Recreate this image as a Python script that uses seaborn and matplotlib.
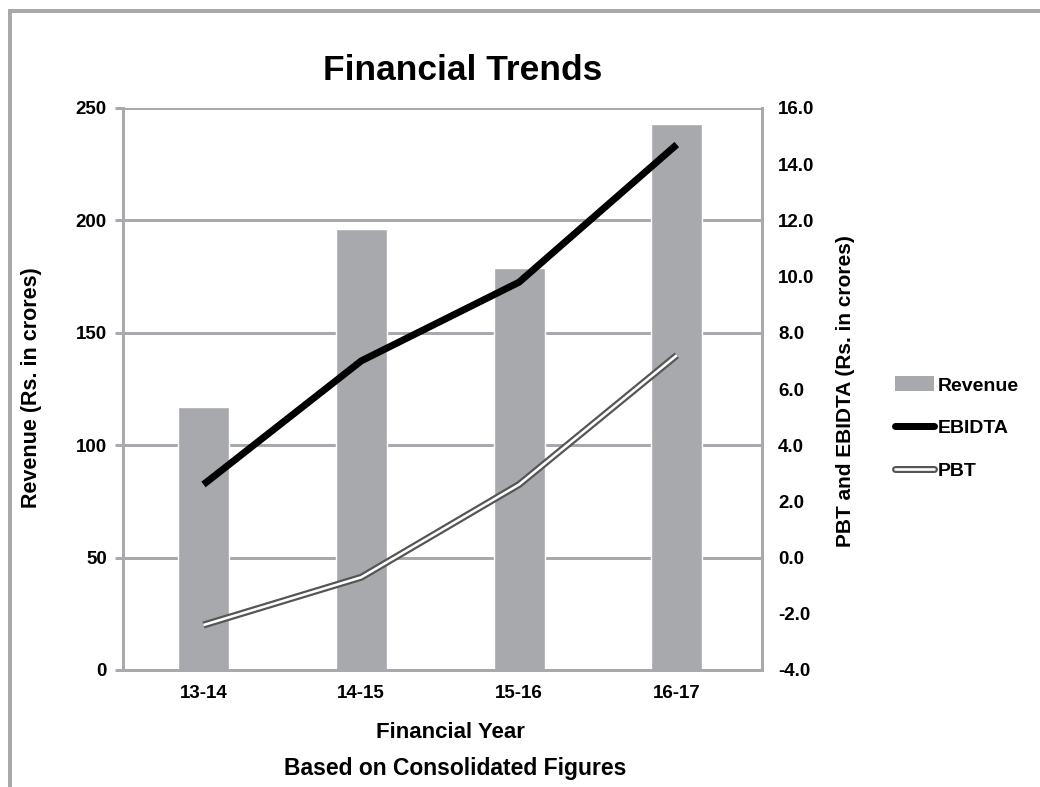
import numpy as np
import pandas as pd
import seaborn as sns
import matplotlib
matplotlib.use("Agg")
import matplotlib.pyplot as plt
from matplotlib.patches import Patch
from matplotlib.lines import Line2D
from matplotlib.ticker import FormatStrFormatter

# ---- data ----
years = ["13-14", "14-15", "15-16", "16-17"]
revenue = [117, 196, 179, 243]
ebidta = [2.6, 7.0, 9.8, 14.7]
pbt = [-2.4, -0.7, 2.6, 7.2]
left_ticks = [0, 50, 100, 150, 200, 250]
right_ticks = [-4, -2, 0, 2, 4, 6, 8, 10, 12, 14, 16]

GRAY = "#a7a9ac"
PBT_GRAY = "#555555"
PX = 72 / 100  # points per pixel at dpi 100

sns.set_theme(style="white")
plt.rcParams["font.family"] = ["Liberation Sans", "DejaVu Sans"]
plt.rcParams["font.weight"] = "bold"
plt.rcParams["text.color"] = "black"
plt.rcParams["axes.labelcolor"] = "black"
plt.rcParams["xtick.color"] = "black"
plt.rcParams["ytick.color"] = "black"

fig = plt.figure(figsize=(10.4, 7.87), dpi=100)
W, H = 1040, 787
ax = fig.add_axes([123 / W, 1 - 670 / H, (762 - 123) / W, (670 - 108) / H])

df = pd.DataFrame({"year": years, "revenue": revenue})
sns.barplot(data=df, x="year", y="revenue", ax=ax, color=GRAY, saturation=1,
            width=0.323, zorder=2)
ax.set_xlim(-0.51, 3.54)
ax.set_ylim(0, 250)
ax.set_yticks(left_ticks)
ax.grid(axis="y", color=GRAY, lw=3 * PX, zorder=0)
ax.set_axisbelow(True)
for side in ["top", "right"]:
    ax.spines[side].set_visible(False)
for side in ["left", "bottom"]:
    ax.spines[side].set_color(GRAY)
    ax.spines[side].set_linewidth(3 * PX)
ax.tick_params(axis="y", left=True, length=8 * PX, width=3 * PX, color=GRAY,
               pad=8 * PX, labelsize=13.5, labelcolor="black")
ax.tick_params(axis="x", bottom=False, length=0, pad=15 * PX, labelsize=13.5,
               labelcolor="black")
for lab in ax.get_xticklabels() + ax.get_yticklabels():
    lab.set_fontweight("bold")

ax.set_xlabel("Financial Year", fontsize=16, fontweight="bold", color="black")
ax.xaxis.label.set_va("center")
ax.xaxis.set_label_coords((450 - 123) / 639, (670 - 733) / 562)
ax.set_ylabel("Revenue (Rs. in crores)", fontsize=15.5, fontweight="bold",
              color="black")
ax.yaxis.label.set_va("center")
ax.yaxis.set_label_coords((32 - 123) / 639, 0.502)

# ---- secondary axis ----
ax2 = ax.twinx()
pos = np.arange(len(years))
sns.lineplot(x=pos, y=ebidta, ax=ax2, color="black", lw=7 * PX, legend=False,
             solid_capstyle="butt", solid_joinstyle="miter")
sns.lineplot(x=pos, y=pbt, ax=ax2, color=PBT_GRAY, lw=7 * PX, legend=False,
             solid_capstyle="butt")
sns.lineplot(x=pos, y=pbt, ax=ax2, color="white", lw=2.6 * PX, legend=False,
             solid_capstyle="butt")
ax2.set_ylim(-4, 16)
ax2.set_yticks(right_ticks)
ax2.yaxis.set_major_formatter(FormatStrFormatter("%.1f"))
ax2.set_yticks([-4, 16], minor=True)
ax2.tick_params(axis="y", which="major", right=True, length=0, pad=16 * PX,
                labelsize=13.5, labelcolor="black")
ax2.tick_params(axis="y", which="minor", right=True, length=8 * PX,
                width=3 * PX, color=GRAY)
for lab in ax2.get_yticklabels():
    lab.set_fontweight("bold")
for side in ["top", "left", "bottom"]:
    ax2.spines[side].set_visible(False)
ax2.spines["right"].set_color(GRAY)
ax2.spines["right"].set_linewidth(3 * PX)
ax2.set_ylabel("PBT and EBIDTA (Rs. in crores)", fontsize=15,
               fontweight="bold", color="black")
ax2.yaxis.label.set_va("center")
ax2.yaxis.set_label_coords((845 - 123) / 639, 0.496)

# ---- title and subtitle ----
fig.text(463 / W, 1 - 80 / H, "Financial Trends", ha="center", va="baseline",
         fontsize=25.5, fontweight="bold", color="black")
fig.text(455 / W, 1 - 775 / H, "Based on Consolidated Figures", ha="center",
         va="baseline", fontsize=16.5, fontweight="bold", color="black")

# ---- legend ----
handles = [
    Patch(facecolor=GRAY, edgecolor="none"),
    Line2D([], [], color="black", lw=7 * PX, solid_capstyle="round"),
    (Line2D([], [], color=PBT_GRAY, lw=7 * PX),
     Line2D([], [], color="white", lw=2.6 * PX)),
]
fig.legend(handles, ["Revenue", "EBIDTA", "PBT"], loc="center left",
           bbox_to_anchor=(885 / W, 1 - 428 / H), frameon=False,
           handlelength=2.0, handleheight=0.8,
           handletextpad=0.2, labelspacing=1.25, borderpad=0,
           prop={"weight": "bold", "size": 14})

# ---- outer frame (left and top edges) ----
fig.add_artist(Line2D([10 / W, 10 / W], [0, 1 - 11 / H], color=GRAY,
                      lw=4 * PX, transform=fig.transFigure,
                      solid_capstyle="projecting"))
fig.add_artist(Line2D([10 / W, 1], [1 - 11 / H, 1 - 11 / H], color=GRAY,
                      lw=4 * PX, transform=fig.transFigure,
                      solid_capstyle="projecting"))

fig.savefig("out.png", dpi=100)
